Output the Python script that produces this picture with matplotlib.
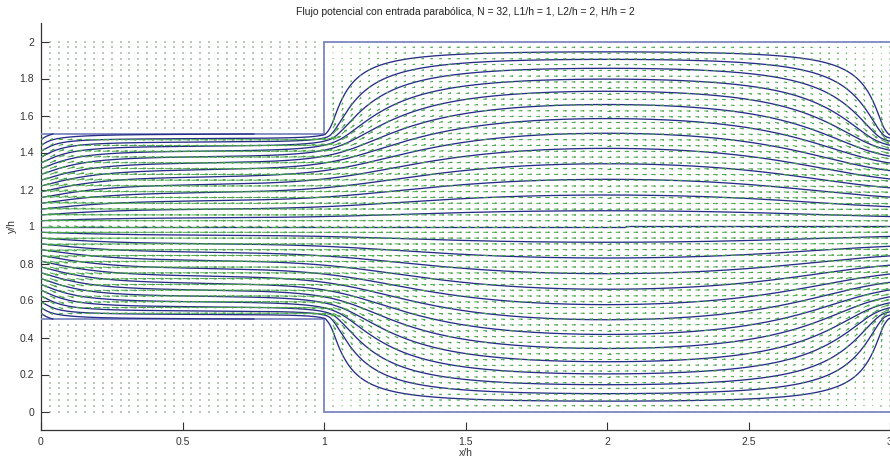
import numpy as np
import matplotlib
matplotlib.use("Agg")
import matplotlib.pyplot as plt
from matplotlib.collections import LineCollection

# ---- problem parameters (lengths scaled with the inlet width h) ----
N = 32          # grid nodes per h
L1 = 1.0        # inlet channel length
L2 = 2.0        # expanded section length
H = 2.0         # expanded section height
h = 1.0         # inlet / outlet channel width
L3 = L1         # outlet channel length (symmetric layout)

title_text = "Flujo potencial con entrada parabólica, N = 32, L1/h = 1, L2/h = 2, H/h = 2"
x_label = "x/h"
y_label = "y/h"
x_ticks = [0, 0.5, 1, 1.5, 2, 2.5, 3]
x_tick_labels = ["0", "0.5", "1", "1.5", "2", "2.5", "3"]
y_ticks = [0, 0.2, 0.4, 0.6, 0.8, 1, 1.2, 1.4, 1.6, 1.8, 2]
y_tick_labels = ["0", "0.2", "0.4", "0.6", "0.8", "1", "1.2", "1.4", "1.6", "1.8", "2"]

# ---- grid and stream-function boundary values ----
d = h / N
L = L1 + L2 + L3
x = np.linspace(0.0, L, int(round(L / d)) + 1)
y = np.linspace(0.0, H, int(round(H / d)) + 1)
X, Y = np.meshgrid(x, y)
yb = (H - h) / 2.0
yt = yb + h
eps = 1e-9

s = np.clip((Y - yb) / h, 0.0, 1.0)
psi = 3 * s**2 - 2 * s**3          # parabolic profile at inflow/outflow, walls at 0 and 1

band = (Y > yb + eps) & (Y < yt - eps)
narrow = (X <= L1 + eps) | (X >= L1 + L2 - eps)
interior = ((X > eps) & (X < L - eps) & narrow & band) | \
           ((X > L1 + eps) & (X < L1 + L2 - eps) & (Y > eps) & (Y < H - eps))
inflow = (X < eps) & band

# ---- Laplace equation for psi, red-black SOR ----
I, J = np.indices(psi.shape)
red = interior & ((I + J) % 2 == 0)
black = interior & ((I + J) % 2 == 1)
omega = 1.94
nb = np.zeros_like(psi)
for _ in range(4000):
    for m in (red, black):
        nb[1:-1, 1:-1] = psi[:-2, 1:-1] + psi[2:, 1:-1] + psi[1:-1, :-2] + psi[1:-1, 2:]
        psi[m] += omega * (0.25 * nb[m] - psi[m])

# ---- nodal velocities (zero on walls and outside the duct) ----
dpsi_dy, dpsi_dx = np.gradient(psi, d, d)
U = dpsi_dy.copy()
V = -dpsi_dx
keep = interior | inflow
U[~keep] = 0.0
V[~keep] = 0.0


def sample(F, px, py):
    fx = np.clip(px / d, 0, len(x) - 1 - 1e-9)
    fy = np.clip(py / d, 0, len(y) - 1 - 1e-9)
    i = fx.astype(int)
    j = fy.astype(int)
    tx = fx - i
    ty = fy - j
    return (F[j, i] * (1 - tx) * (1 - ty) + F[j, i + 1] * tx * (1 - ty)
            + F[j + 1, i] * (1 - tx) * ty + F[j + 1, i + 1] * tx * ty)


def direction(px, py):
    u = sample(U, px, py)
    v = sample(V, px, py)
    sp = np.hypot(u, v)
    sp_safe = np.where(sp > 0, sp, 1.0)
    return u / sp_safe, v / sp_safe, sp


# ---- streamlines seeded across the inlet section ----
x_end = 3.05
seed_y = yb + np.arange(1, N) * d
px = np.zeros_like(seed_y)
py = seed_y.copy()
ds = 0.1 * d
hist_x = [px.copy()]
hist_y = [py.copy()]
active = np.ones_like(seed_y, bool)
for _ in range(8000):
    ux, uy, sp = direction(px, py)
    ux2, uy2, sp2 = direction(px + 0.5 * ds * ux, py + 0.5 * ds * uy)
    nx = px + ds * ux2
    ny = py + ds * uy2
    active &= ~((sp < 1e-8) | (sp2 < 1e-8) | (px > x_end))
    px = np.where(active, nx, px)
    py = np.where(active, ny, py)
    hist_x.append(px.copy())
    hist_y.append(py.copy())
    if not active.any():
        break
hist_x = np.array(hist_x)
hist_y = np.array(hist_y)

# ---- quiver arrows (shaft + two head strokes, in data units) ----
arrow_scale = 0.027            # arrow length per unit speed
Us = U * arrow_scale
Vs = V * arrow_scale
alpha, beta = 0.33, 0.33
visible = X <= 3.0 + eps
moving = (np.hypot(Us, Vs) > 1.5e-3) & visible
xs, ys, us, vs = X[moving], Y[moving], Us[moving], Vs[moving]
tipx, tipy = xs + us, ys + vs
shafts = np.column_stack([xs, ys, tipx, tipy]).reshape(-1, 2, 2)
head1 = np.column_stack([tipx - alpha * (us + beta * vs), tipy - alpha * (vs - beta * us),
                         tipx, tipy]).reshape(-1, 2, 2)
head2 = np.column_stack([tipx - alpha * (us - beta * vs), tipy - alpha * (vs + beta * us),
                         tipx, tipy]).reshape(-1, 2, 2)
arrow_segs = np.concatenate([shafts, head1, head2])
still = (~moving) & visible

# ---- figure ----
plt.rcParams["font.family"] = ["Liberation Sans", "DejaVu Sans"]
fig = plt.figure(figsize=(8.9, 4.59), dpi=100)
ax = fig.add_axes([41 / 890, 29 / 459, 849 / 890, 407 / 459])

ax.scatter(X[still], Y[still], s=1.0, c="#bcc8bc", marker="s", linewidths=0, zorder=1)

wall_color = "#7d88c2"
ax.plot([0, L1, L1, L], [yt, yt, H, H], color=wall_color, lw=1.3, zorder=3)
ax.plot([0, L1, L1, L], [yb, yb, 0, 0], color=wall_color, lw=1.3, zorder=3)

for k in range(len(seed_y)):
    ax.plot(hist_x[:, k], hist_y[:, k], color="#272c88", lw=0.95, zorder=4)

ax.add_collection(LineCollection(arrow_segs, colors="#47a447", linewidths=0.7, zorder=5))

ax.set_xlim(0, 3)
ax.set_ylim(-0.1, 2.1)
ax.set_xticks(x_ticks)
ax.set_xticklabels(x_tick_labels)
ax.set_yticks(y_ticks)
ax.set_yticklabels(y_tick_labels)
for side in ("top", "right"):
    ax.spines[side].set_visible(False)
for side in ("left", "bottom"):
    ax.spines[side].set_color("#333333")
    ax.spines[side].set_linewidth(0.9)
ax.tick_params(direction="in", length=6, width=0.8, colors="#333333",
               labelsize=7.5, pad=5)
ax.set_xlabel(x_label, fontsize=7.5, color="#333333", labelpad=1)
ax.set_ylabel(y_label, fontsize=7.5, color="#333333")
ax.yaxis.set_label_coords(-24 / 849, 0.5)
ax.set_title(title_text, fontsize=7.5, color="#222222", pad=6)

fig.savefig("out.png", dpi=100)
